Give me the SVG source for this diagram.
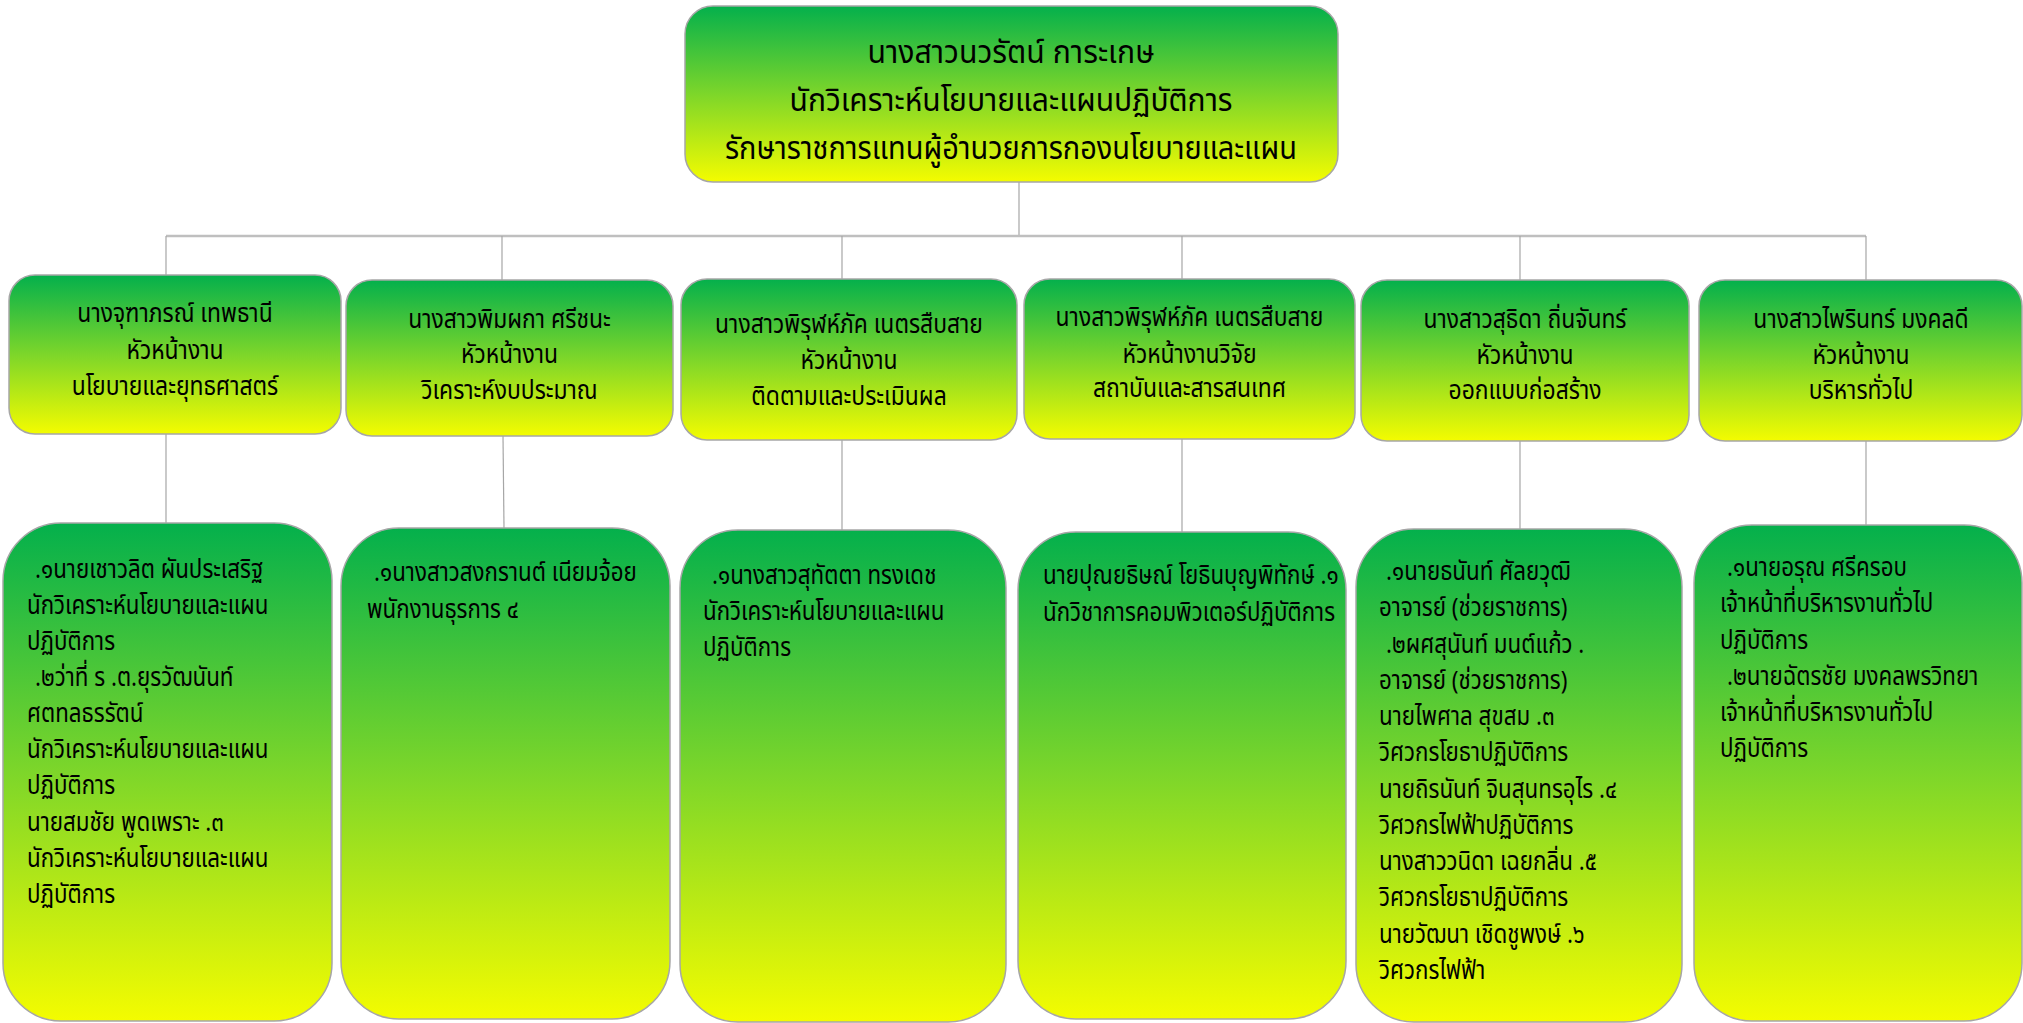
<svg xmlns="http://www.w3.org/2000/svg" width="2023" height="1023" viewBox="0 0 2023 1023">
<style>
text{font-family:"Noto Sans Thai","Noto Sans","DejaVu Sans",sans-serif;fill:#000}
.t1{font-size:32px;text-anchor:middle}
.t2{font-size:26px;text-anchor:middle}
.t3{font-size:26px}
.box{stroke:#a6a6a6;stroke-width:1.5}
.c{stroke:#a6a6a6;stroke-width:1.2;fill:none}
</style>
<defs>
<linearGradient id="g" x1="0" y1="0" x2="0" y2="1">
<stop offset="0" stop-color="#04b04c"/>
<stop offset="0.5" stop-color="#7dd62a"/>
<stop offset="1" stop-color="#f4fc00"/>
</linearGradient>
</defs>
<rect width="2023" height="1023" fill="#fff"/>
<g id="connectors">
<line class="c" x1="1019" y1="182" x2="1019" y2="236"/>
<line x1="166" y1="236" x2="1866" y2="236" stroke="#bfbfbf" stroke-width="2.5"/>
<line class="c" x1="166" y1="236" x2="166" y2="275"/>
<line class="c" x1="502" y1="236" x2="502" y2="280"/>
<line class="c" x1="842" y1="236" x2="842" y2="279"/>
<line class="c" x1="1182" y1="236" x2="1182" y2="279"/>
<line class="c" x1="1520" y1="236" x2="1520" y2="280"/>
<line class="c" x1="1866" y1="236" x2="1866" y2="280"/>
<line class="c" x1="166" y1="434" x2="166" y2="523"/>
<line class="c" x1="503" y1="436" x2="504" y2="528"/>
<line class="c" x1="842" y1="440" x2="842" y2="530"/>
<line class="c" x1="1182" y1="439" x2="1182" y2="532"/>
<line class="c" x1="1520" y1="441" x2="1520" y2="529"/>
<line class="c" x1="1866" y1="441" x2="1866" y2="525"/>
</g>
<g id="top">
<rect class="box" x="685" y="6" width="653" height="176" rx="28" fill="url(#g)"/>
<text class="t1" x="1011" y="63" textLength="287" lengthAdjust="spacingAndGlyphs">นางสาวนวรัตน์  การะเกษ</text>
<text class="t1" x="1011" y="111" textLength="443" lengthAdjust="spacingAndGlyphs">นักวิเคราะห์นโยบายและแผนปฏิบัติการ</text>
<text class="t1" x="1011" y="159" textLength="572" lengthAdjust="spacingAndGlyphs">รักษาราชการแทนผู้อำนวยการกองนโยบายและแผน</text>
</g>
<g id="h1">
<rect class="box" x="9" y="275" width="332" height="159" rx="26" fill="url(#g)"/>
<text class="t2" transform="translate(175,322) scale(0.88,1)">นางจุฑาภรณ์ เทพธานี</text>
<text class="t2" transform="translate(175,359) scale(0.88,1)">หัวหน้างาน</text>
<text class="t2" transform="translate(175,395) scale(0.88,1)">นโยบายและยุทธศาสตร์</text>
</g>
<g id="h2">
<rect class="box" x="346" y="280" width="327" height="156" rx="26" fill="url(#g)"/>
<text class="t2" transform="translate(509.5,328) scale(0.88,1)">นางสาวพิมผกา ศรีชนะ</text>
<text class="t2" transform="translate(509.5,363) scale(0.88,1)">หัวหน้างาน</text>
<text class="t2" transform="translate(509.5,399) scale(0.88,1)">วิเคราะห์งบประมาณ</text>
</g>
<g id="h3">
<rect class="box" x="681" y="279" width="336" height="161" rx="26" fill="url(#g)"/>
<text class="t2" transform="translate(849,333) scale(0.88,1)">นางสาวพิรุฬห์ภัค เนตรสืบสาย</text>
<text class="t2" transform="translate(849,369) scale(0.88,1)">หัวหน้างาน</text>
<text class="t2" transform="translate(849,405) scale(0.88,1)">ติดตามและประเมินผล</text>
</g>
<g id="h4">
<rect class="box" x="1024" y="279" width="331" height="160" rx="26" fill="url(#g)"/>
<text class="t2" transform="translate(1189.5,326) scale(0.88,1)">นางสาวพิรุฬห์ภัค เนตรสืบสาย</text>
<text class="t2" transform="translate(1189.5,363) scale(0.88,1)">หัวหน้างานวิจัย</text>
<text class="t2" transform="translate(1189.5,397) scale(0.88,1)">สถาบันและสารสนเทศ</text>
</g>
<g id="h5">
<rect class="box" x="1361" y="280" width="328" height="161" rx="26" fill="url(#g)"/>
<text class="t2" transform="translate(1525,328) scale(0.88,1)">นางสาวสุธิดา ถิ่นจันทร์</text>
<text class="t2" transform="translate(1525,364) scale(0.88,1)">หัวหน้างาน</text>
<text class="t2" transform="translate(1525,399) scale(0.88,1)">ออกแบบก่อสร้าง</text>
</g>
<g id="h6">
<rect class="box" x="1699" y="280" width="323" height="161" rx="26" fill="url(#g)"/>
<text class="t2" transform="translate(1861,328) scale(0.88,1)">นางสาวไพรินทร์ มงคลดี</text>
<text class="t2" transform="translate(1861,364) scale(0.88,1)">หัวหน้างาน</text>
<text class="t2" transform="translate(1861,399) scale(0.88,1)">บริหารทั่วไป</text>
</g>
<g id="s1">
<rect class="box" x="3" y="523" width="329" height="498" rx="58" fill="url(#g)"/>
<text class="t3" transform="translate(35,578) scale(0.86,1)">.๑นายเชาวลิต ผันประเสริฐ</text>
<text class="t3" transform="translate(27,614) scale(0.86,1)">นักวิเคราะห์นโยบายและแผน</text>
<text class="t3" transform="translate(27,650) scale(0.86,1)">ปฏิบัติการ</text>
<text class="t3" transform="translate(35,686) scale(0.86,1)">.๒ว่าที่ ร .ต.ยุรวัฒนันท์</text>
<text class="t3" transform="translate(27,722) scale(0.86,1)">ศตทลธรรัตน์</text>
<text class="t3" transform="translate(27,758) scale(0.86,1)">นักวิเคราะห์นโยบายและแผน</text>
<text class="t3" transform="translate(27,794) scale(0.86,1)">ปฏิบัติการ</text>
<text class="t3" transform="translate(27,831) scale(0.86,1)">นายสมชัย พูดเพราะ .๓</text>
<text class="t3" transform="translate(27,867) scale(0.86,1)">นักวิเคราะห์นโยบายและแผน</text>
<text class="t3" transform="translate(27,903) scale(0.86,1)">ปฏิบัติการ</text>
</g>
<g id="s2">
<rect class="box" x="341" y="528" width="329" height="491" rx="58" fill="url(#g)"/>
<text class="t3" transform="translate(374,581) scale(0.86,1)">.๑นางสาวสงกรานต์ เนียมจ้อย</text>
<text class="t3" transform="translate(367,618) scale(0.86,1)">พนักงานธุรการ ๔</text>
</g>
<g id="s3">
<rect class="box" x="680" y="530" width="326" height="492" rx="58" fill="url(#g)"/>
<text class="t3" transform="translate(712,584) scale(0.86,1)">.๑นางสาวสุทัตตา ทรงเดช</text>
<text class="t3" transform="translate(703,620) scale(0.86,1)">นักวิเคราะห์นโยบายและแผน</text>
<text class="t3" transform="translate(703,656) scale(0.86,1)">ปฏิบัติการ</text>
</g>
<g id="s4">
<rect class="box" x="1018" y="532" width="328" height="487" rx="58" fill="url(#g)"/>
<text class="t3" transform="translate(1043,584) scale(0.86,1)">นายปุณยธิษณ์ โยธินบุญพิทักษ์ .๑</text>
<text class="t3" transform="translate(1043,621) scale(0.86,1)">นักวิชาการคอมพิวเตอร์ปฏิบัติการ</text>
</g>
<g id="s5">
<rect class="box" x="1356" y="529" width="326" height="493" rx="58" fill="url(#g)"/>
<text class="t3" transform="translate(1386,580) scale(0.86,1)">.๑นายธนันท์ ศัลยวุฒิ</text>
<text class="t3" transform="translate(1379,616) scale(0.86,1)">อาจารย์ (ช่วยราชการ)</text>
<text class="t3" transform="translate(1386,653) scale(0.86,1)">.๒ผศสุนันท์ มนต์แก้ว .</text>
<text class="t3" transform="translate(1379,689) scale(0.86,1)">อาจารย์ (ช่วยราชการ)</text>
<text class="t3" transform="translate(1379,725) scale(0.86,1)">นายไพศาล สุขสม .๓</text>
<text class="t3" transform="translate(1379,761) scale(0.86,1)">วิศวกรโยธาปฏิบัติการ</text>
<text class="t3" transform="translate(1379,798) scale(0.86,1)">นายถิรนันท์ จินสุนทรอุไร .๔</text>
<text class="t3" transform="translate(1379,834) scale(0.86,1)">วิศวกรไฟฟ้าปฏิบัติการ</text>
<text class="t3" transform="translate(1379,870) scale(0.86,1)">นางสาววนิดา เฉยกลิ่น .๕</text>
<text class="t3" transform="translate(1379,906) scale(0.86,1)">วิศวกรโยธาปฏิบัติการ</text>
<text class="t3" transform="translate(1379,943) scale(0.86,1)">นายวัฒนา เชิดชูพงษ์ .๖</text>
<text class="t3" transform="translate(1379,979) scale(0.86,1)">วิศวกรไฟฟ้า</text>
</g>
<g id="s6">
<rect class="box" x="1694" y="525" width="328" height="496" rx="58" fill="url(#g)"/>
<text class="t3" transform="translate(1727,576) scale(0.86,1)">.๑นายอรุณ ศรีครอบ</text>
<text class="t3" transform="translate(1720,612) scale(0.86,1)">เจ้าหน้าที่บริหารงานทั่วไป</text>
<text class="t3" transform="translate(1720,649) scale(0.86,1)">ปฏิบัติการ</text>
<text class="t3" transform="translate(1727,685) scale(0.86,1)">.๒นายฉัตรชัย มงคลพรวิทยา</text>
<text class="t3" transform="translate(1720,721) scale(0.86,1)">เจ้าหน้าที่บริหารงานทั่วไป</text>
<text class="t3" transform="translate(1720,757) scale(0.86,1)">ปฏิบัติการ</text>
</g>
</svg>
